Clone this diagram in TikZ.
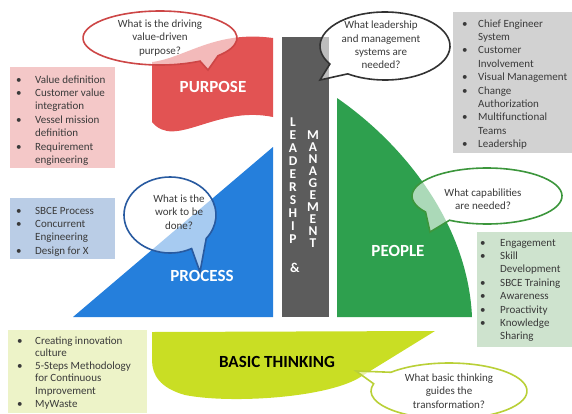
\documentclass[tikz,border=0pt]{standalone}
\usepackage{fontspec}
\setmainfont{Carlito}
\definecolor{cred}{RGB}{226,83,83}
\definecolor{cblue}{RGB}{37,127,220}
\definecolor{cgray}{RGB}{92,92,92}
\definecolor{cgreen}{RGB}{46,160,78}
\definecolor{cyg}{RGB}{201,222,36}
\definecolor{cpink}{RGB}{244,200,200}
\definecolor{clgray}{RGB}{210,210,210}
\definecolor{clblue}{RGB}{186,205,230}
\definecolor{clgreen}{RGB}{206,227,206}
\definecolor{clyellow}{RGB}{237,243,200}
\definecolor{bred}{RGB}{205,70,70}
\definecolor{bdark}{RGB}{50,50,50}
\definecolor{bblue}{RGB}{40,90,160}
\definecolor{bgreen}{RGB}{60,150,60}
\definecolor{byg}{RGB}{185,208,55}
\definecolor{ctext}{RGB}{58,58,58}
\newlength\bulw
\newcommand{\bl}[1]{\par\noindent\makebox[\bulw][l]{\textbullet}#1}
\newcommand{\cl}[1]{\par\noindent\hspace*{\bulw}#1}
\begin{document}
\begin{tikzpicture}[x=1pt,y=-1pt,
  bubble/.style={fill=white,fill opacity=0.6,line width=1.6pt},
  bubtext/.style={align=center,inner sep=0pt,text=ctext,font=\fontsize{11}{13.3}\selectfont},
  listtext/.style={anchor=base west,inner sep=0pt,text=ctext,font=\fontsize{11}{13.4}\selectfont},
  title/.style={inner sep=0pt,font=\fontsize{17}{20}\selectfont\bfseries},
  vert/.style={anchor=north,align=center,inner sep=0pt,text=white}]
\useasboundingbox (0,0) rectangle (572,413);
% main shapes
\fill[cred] (152,62) .. controls (185,58) and (215,30) .. (273,38) -- (273,117)
  .. controls (215,105) and (175,150) .. (152,122) -- cycle;
\fill[cblue] (73,317) -- (273,317) -- (273,147) -- cycle;
\fill[cgray] (282,37) rectangle (329,317);
\fill[cgreen] (337,98) .. controls (405,145) and (468,225) .. (472,317) -- (337,317) -- cycle;
\fill[cyg] (152,332) -- (435,331) -- (362,376) .. controls (330,398) and (230,404) .. (185,395)
  .. controls (160,388) and (152,375) .. (152,360) -- cycle;
% list boxes
\fill[cpink] (10,67) rectangle (115,168);
\fill[clgray] (453,12) rectangle (572,153);
\fill[clblue] (10,198) rectangle (115,259);
\fill[clgreen] (477,232) rectangle (572,347);
\fill[clyellow] (8,330) rectangle (147,413);
\node[listtext] (lpurpose) at (16,83) {\setlength\bulw{19pt}\parbox[t]{120pt}{\fontsize{11}{13.4}\selectfont
  \bl{Value definition}\bl{Customer value}\cl{integration}\bl{Vessel mission}\cl{definition}\bl{Requirement}\cl{engineering}}};
\node[listtext] (llead) at (462,27) {\setlength\bulw{16pt}\parbox[t]{120pt}{\fontsize{11}{13.4}\selectfont
  \bl{Chief Engineer}\cl{System}\bl{Customer}\cl{Involvement}\bl{Visual Management}\bl{Change}\cl{Authorization}\bl{Multifunctional}\cl{Teams}\bl{Leadership}}};
\node[listtext] (lprocess) at (16,214) {\setlength\bulw{19pt}\parbox[t]{120pt}{\fontsize{11}{13.4}\selectfont
  \bl{SBCE Process}\bl{Concurrent}\cl{Engineering}\bl{Design for X}}};
\node[listtext] (lpeople) at (480,246) {\setlength\bulw{20pt}\parbox[t]{120pt}{\fontsize{11}{13.4}\selectfont
  \bl{Engagement}\bl{Skill}\cl{Development}\bl{SBCE Training}\bl{Awareness}\bl{Proactivity}\bl{Knowledge}\cl{Sharing}}};
\node[listtext] (lbasic) at (17,344) {\setlength\bulw{18pt}\parbox[t]{140pt}{\fontsize{11}{12.6}\selectfont
  \bl{Creating innovation}\cl{culture}\bl{5-Steps Methodology}\cl{for Continuous}\cl{Improvement}\bl{MyWaste}}};
% titles
\node[title,text=white] (tpurpose) at (213,87) {PURPOSE};
\node[title,text=white] (tprocess) at (202,276) {PROCESS};
\node[title,text=white] (tpeople) at (398,251) {PEOPLE};
\node[title,text=black] (tbasic) at (277,362) {BASIC THINKING};
\node[vert,font=\fontsize{13.5}{12.9}\selectfont\bfseries] (vlead) at (293,118) {L\\E\\A\\D\\E\\R\\S\\H\\I\\P};
\node[vert,font=\fontsize{13.5}{12}\selectfont\bfseries] (vman) at (313,131) {M\\A\\N\\A\\G\\E\\M\\E\\N\\T};
\node[inner sep=0pt,text=white,font=\fontsize{13.5}{15}\selectfont\bfseries] (vamp) at (295,268) {\&};
% bubbles
\draw[bubble,draw=bred] (160,38) ++(58.7:77 and 27) arc[start angle=58.7,end angle=401.1,x radius=77,y radius=27] -- (208,70) -- cycle;
\node[bubtext] (qpurpose) at (160,38) {What is the driving\\value-driven\\purpose?};
\draw[bubble,draw=bdark] (385,46) ++(148:65 and 34) arc[start angle=148,end angle=485,x radius=65,y radius=34] -- (320,80) -- cycle;
\node[bubtext] (qlead) at (381,45) {What leadership\\and management\\systems are\\needed?};
\draw[bubble,draw=bblue] (170,215) ++(62:46 and 38) arc[start angle=62,end angle=398,x radius=46,y radius=38] -- (200,272) -- cycle;
\node[bubtext] (qprocess) at (179,212) {What is the\\work to be\\done?};
\draw[bubble,draw=bgreen] (487,196) ++(145:75 and 28) arc[start angle=145,end angle=480,x radius=75,y radius=28] -- (430,232) -- cycle;
\node[bubtext] (qpeople) at (483,199) {What capabilities\\are needed?};
\draw[bubble,draw=byg] (449,391) ++(222:78 and 28) arc[start angle=222,end angle=555,x radius=78,y radius=28] -- (356,371) -- cycle;
\node[bubtext] (qbasic) at (449,391) {What basic thinking\\guides the\\transformation?};
\end{tikzpicture}
\end{document}
